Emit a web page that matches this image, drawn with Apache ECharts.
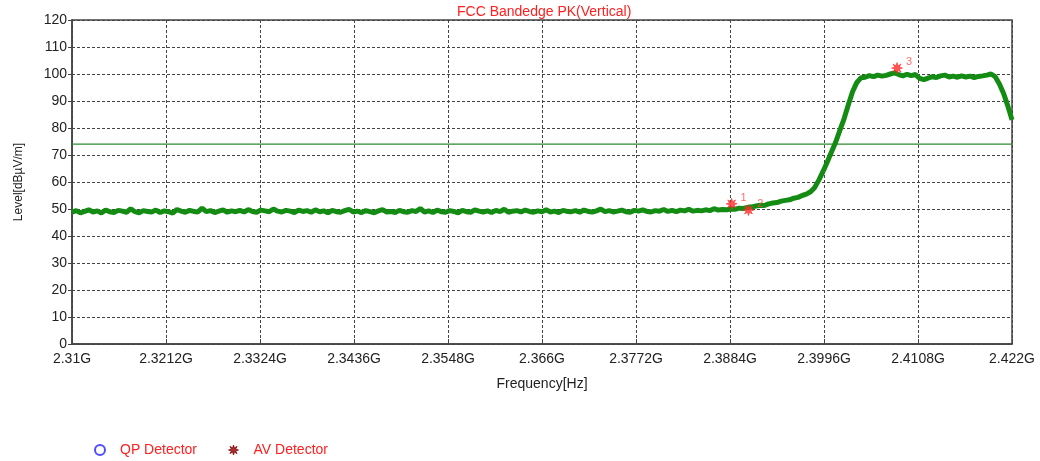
<!DOCTYPE html>
<html>
<head>
<meta charset="utf-8">
<script src="https://cdn.jsdelivr.net/npm/echarts@6/dist/echarts.min.js"></script>
<style>
html,body{margin:0;padding:0;background:#fff;}
#chart{width:1040px;height:461px;}
</style>
</head>
<body>
<div id="chart"></div>
<script>
// Sweep: evenly spaced analyzer points (GHz)
var freqStart = 2.31;
var freqStep = 0.0005;
// Peak trace levels (dBuV/m)
var traceLevels = [
  48.8, 49.4, 48.6, 49.1, 49.7, 48.9, 49.3, 48.5, 49.6, 49.0,
  48.7, 49.5, 49.2, 48.8, 50.1, 49.0, 48.6, 49.4, 49.1, 48.9,
  49.6, 48.7, 49.3, 49.0, 48.5, 49.8, 49.2, 48.8, 49.5, 49.1,
  48.9, 50.3, 49.0, 49.4, 48.7, 49.2, 49.7, 48.8, 49.3, 49.0,
  49.5, 48.9, 49.8, 49.1, 48.8, 49.6, 49.3, 49.0, 50.0, 49.2,
  48.9, 49.5, 49.2, 48.7, 49.6, 49.1, 49.4, 48.8, 49.7, 49.0,
  49.3, 48.6, 49.5, 49.0, 48.8, 49.4, 49.9, 48.9, 49.2, 48.7,
  49.4, 49.0, 48.6, 49.3, 49.8, 48.9, 49.1, 48.7, 49.5, 49.0,
  48.8, 49.4, 49.1, 50.2, 48.9, 49.3, 48.7, 49.6, 49.0, 48.8,
  49.4, 49.1, 48.6, 49.5, 49.0, 48.8, 49.7, 49.2, 48.9, 49.3,
  48.7, 49.5, 49.0, 49.9, 48.8, 49.2, 49.4, 48.9, 49.6, 49.1,
  48.8, 49.3, 49.0, 49.7, 48.9, 49.2, 48.7, 49.5, 49.1, 49.0,
  49.4, 48.8, 49.6, 49.1, 48.9, 49.3, 50.0, 49.0, 49.4, 48.9,
  49.2, 49.6, 49.0, 48.8, 49.5, 49.2, 49.7, 49.1, 48.9, 49.4,
  49.2, 49.8, 49.1, 49.5, 49.0, 49.6, 49.3, 49.9, 49.2, 49.5,
  49.3, 49.7, 49.4, 50.1, 49.6, 49.8,
  49.7, 50.0, 49.9, 50.3, 50.2, 50.6, 50.8, 51.1, 51.4, 51.3,
  51.9, 52.2, 52.4, 52.9, 53.2, 53.4, 54.0, 54.3, 55.0, 55.5,
  56.4, 58.0,
  60.8, 64.0, 67.5, 71.2, 74.8, 79.2, 83.5, 88.6, 93.4, 96.8, 98.6,
  98.8, 99.4, 99.0, 99.6, 99.2, 99.5, 100.0, 100.4, 99.8, 99.3,
  99.9, 99.4, 99.8, 98.4, 97.9, 98.5, 99.0, 98.7, 99.3, 99.6,
  98.9, 99.2, 98.8, 99.3, 98.9, 99.2, 98.7, 99.1, 99.3, 99.6,
  100.0, 99.0, 96.3, 92.8, 88.2, 83.0
];
// Limit line
var limitFreqs = [2.31, 2.422];
var limitLevels = [74, 74];
// Markers
var markerFreqs = [2.3886, 2.3906, 2.4083];
var markerLevels = [51.9, 49.6, 102.2];
var markerNames = ['1', '2', '3'];
// Axis
var xMin = 2.31, xMax = 2.422, xInterval = 0.0112;
var yMin = 0, yMax = 120, yInterval = 10;

var traceData = traceLevels.map(function (v, i) {
  return [+(freqStart + i * freqStep).toFixed(4), v];
});
var limitData = limitFreqs.map(function (f, i) { return [f, limitLevels[i]]; });
var markerData = markerFreqs.map(function (f, i) {
  return { value: [f, markerLevels[i]], name: markerNames[i] };
});

var starPath = 'path://M10,5 L7.03,5.84 L8.54,8.54 L5.84,7.03 L5,10 L4.16,7.03 L1.46,8.54 L2.97,5.84 L0,5 L2.97,4.16 L1.46,1.46 L4.16,2.97 L5,0 L5.84,2.97 L8.54,1.46 L7.03,4.16 Z';
var font = 'Liberation Sans, Arial, sans-serif';

var chart = echarts.init(document.getElementById('chart'), null, { renderer: 'canvas' });
chart.setOption({
  animation: false,
  textStyle: { fontFamily: font },
  title: {
    text: 'FCC Bandedge PK(Vertical)',
    left: 452, top: 0,
    textStyle: { color: '#ff2020', fontSize: 14, fontWeight: 'normal', fontFamily: font }
  },
  legend: {
    left: 89, top: 438,
    itemWidth: 30, itemHeight: 10, itemGap: 31,
    textStyle: { color: '#ff2020', fontSize: 14, fontFamily: font },
    data: [
      { name: 'QP Detector', icon: 'circle', itemStyle: { color: '#ffffff', borderColor: '#2222ff', borderWidth: 2 } },
      { name: 'AV Detector', icon: starPath, itemStyle: { color: '#8b0000', borderColor: '#8b0000', borderWidth: 1 } }
    ]
  },
  grid: { left: 72, right: 28, top: 20, bottom: 117, show: true, borderColor: '#444', borderWidth: 1.5 },
  xAxis: {
    type: 'value', min: xMin, max: xMax, interval: xInterval,
    name: 'Frequency[Hz]', nameLocation: 'middle', nameGap: 33,
    nameTextStyle: { color: '#222', fontSize: 14, fontFamily: font },
    axisLine: { lineStyle: { color: '#444', width: 1.5 } },
    axisTick: { inside: true, length: 5, lineStyle: { color: '#444' } },
    axisLabel: { color: '#222', fontSize: 14, margin: 8, fontFamily: font,
      formatter: function (v) { return parseFloat(v.toFixed(4)) + 'G'; } },
    splitLine: { show: true, lineStyle: { color: '#444', type: [3, 2], width: 1 } }
  },
  yAxis: {
    type: 'value', min: yMin, max: yMax, interval: yInterval,
    name: 'Level[dB\u00b5V/m]', nameLocation: 'middle', nameGap: 47,
    nameTextStyle: { color: '#222', fontSize: 12, fontFamily: font },
    axisLine: { show: true, lineStyle: { color: '#444', width: 1.5 } },
    axisTick: { show: true, length: 4, lineStyle: { color: '#444' } },
    axisLabel: { color: '#222', fontSize: 14, margin: 5, fontFamily: font },
    splitLine: { show: true, lineStyle: { color: '#444', type: [3, 2], width: 1 } }
  },
  series: [
    {
      name: 'Trace', type: 'line', data: traceData, showSymbol: false, symbol: 'none',
      lineStyle: { color: '#148c14', width: 5 }, z: 3
    },
    {
      name: 'Limit', type: 'line', data: limitData, showSymbol: false, symbol: 'none',
      lineStyle: { color: '#2e8b2e', width: 1.2 }, z: 2
    },
    {
      name: 'Markers', type: 'scatter', data: markerData, symbol: starPath, symbolSize: 11,
      itemStyle: { color: '#ff2a2a', borderColor: '#ff2a2a', borderWidth: 0.8 }, z: 5,
      label: { show: true, position: 'right', offset: [-2, -6], color: '#ff4a4a', fontSize: 11,
        formatter: function (p) { return p.name; } }
    },
    { name: 'QP Detector', type: 'scatter', data: [], symbol: 'circle', itemStyle: { color: '#2222ff' } },
    { name: 'AV Detector', type: 'scatter', data: [], symbol: starPath, itemStyle: { color: '#8b0000' } }
  ]
});
</script>
</body>
</html>
